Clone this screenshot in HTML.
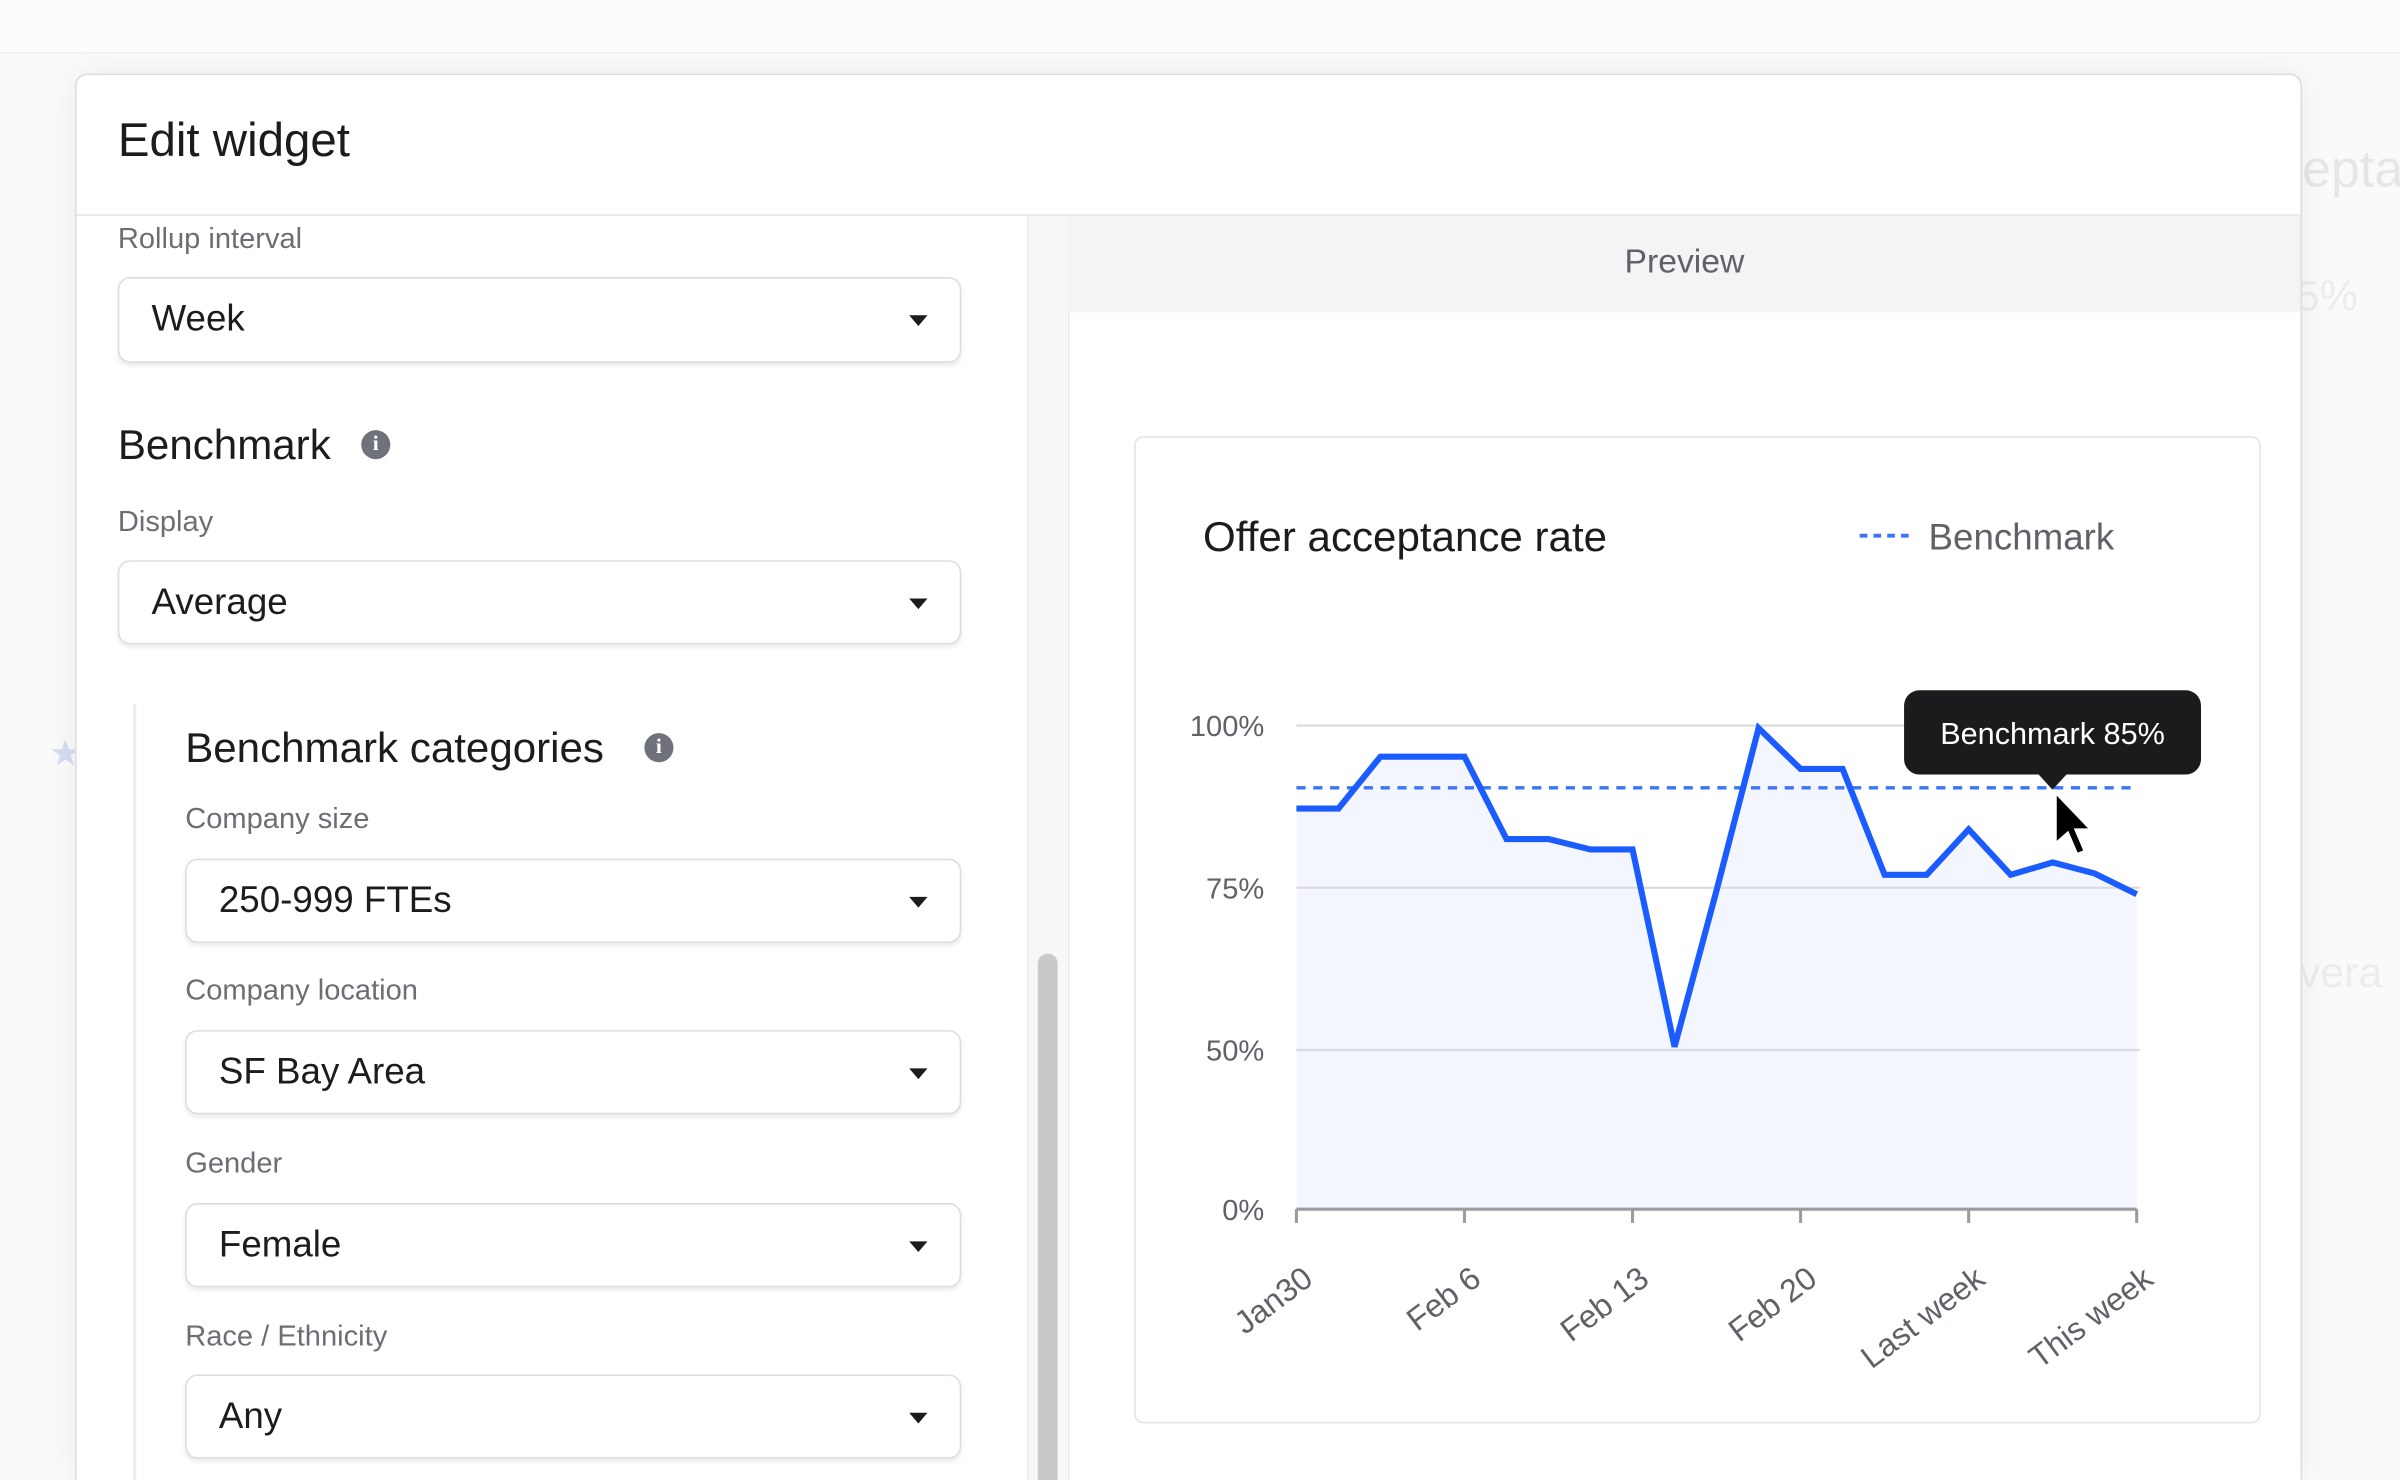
<!DOCTYPE html>
<html><head><meta charset="utf-8">
<style>
html,body{margin:0;padding:0;width:2400px;height:1480px;overflow:hidden;background:#fafafa;font-family:"Liberation Sans",sans-serif;}
#stage{position:absolute;left:0;top:0;width:1568px;height:967px;overflow:hidden;transform:scale(1.5306);transform-origin:0 0;background:#fafafa;}
.abs{position:absolute;}
.lbl{position:absolute;font-size:19px;color:#6b6e75;}
.sel{position:absolute;background:#fff;border:1px solid #dcdde0;border-radius:8px;box-shadow:0 2px 3px rgba(0,0,0,0.08);box-sizing:border-box;}
.sel span{position:absolute;left:21px;top:50%;transform:translateY(-50%);font-size:24px;color:#1c1c1e;}
.caret{position:absolute;right:21px;top:50%;margin-top:-3px;width:0;height:0;border-left:6px solid transparent;border-right:6px solid transparent;border-top:7px solid #1c1c1e;}
.info{position:absolute;width:19px;height:19px;border-radius:50%;background:#6f727a;color:#fff;font-size:14px;font-weight:bold;text-align:center;line-height:19px;font-family:"Liberation Serif",serif;}
</style></head>
<body>
<div id="stage">
  <div class="abs" style="left:0;top:0;width:1568px;height:34px;background:#fcfcfc;border-bottom:1px solid #f0f0f0;"></div>
  <div class="abs" style="left:1504px;top:92px;font-size:34px;color:#e6e6e8;">epta</div>
  <div class="abs" style="left:1500px;top:178px;font-size:28px;color:#ececee;">5%</div>
  <div class="abs" style="left:1502px;top:620px;font-size:28px;color:#ececee;">vera</div>
  <div class="abs" style="left:32px;top:478px;font-size:24px;color:#d5dcf2;">★</div>

  <div class="abs" style="left:49px;top:48px;width:1453px;height:919px;background:#fff;border:1px solid #dcdcdf;border-bottom:none;border-radius:8px 8px 0 0;box-shadow:0 0 20px rgba(0,0,0,0.06);overflow:hidden;">
    <div class="abs" style="left:27px;top:25px;font-size:31px;color:#1c1c1e;">Edit widget</div>
    <div class="abs" style="left:0;top:91px;width:1453px;height:1px;background:#e4e4e7;"></div>
    <div class="abs" style="left:621px;top:92px;width:26px;height:827px;background:#f7f7f8;border-left:1px solid #ececee;border-right:1px solid #ececee;"></div>
    <div class="abs" style="left:628px;top:574px;width:13px;height:345px;background:#c9c9cc;border-radius:7px 7px 0 0;"></div>
    <div class="abs" style="left:648px;top:92px;width:805px;height:63px;background:#f3f4f6;">
      <div style="text-align:center;line-height:60px;font-size:22px;color:#5f6268;">Preview</div>
    </div>
  </div>

  <div class="lbl" style="left:77px;top:146px;">Rollup interval</div>
  <div class="sel" style="left:77px;top:181px;width:551px;height:56px;"><span>Week</span><div class="caret"></div></div>

  <div class="abs" style="left:77px;top:275px;font-size:27.5px;color:#1c1c1e;">Benchmark</div>
  <div class="info" style="left:236px;top:281px;">i</div>
  <div class="lbl" style="left:77px;top:331px;">Display</div>
  <div class="sel" style="left:77px;top:366px;width:551px;height:55px;"><span>Average</span><div class="caret"></div></div>

  <div class="abs" style="left:87px;top:460px;width:2px;height:507px;background:#ececee;"></div>
  <div class="abs" style="left:121px;top:473px;font-size:27.5px;color:#1c1c1e;">Benchmark categories</div>
  <div class="info" style="left:421px;top:479px;">i</div>

  <div class="lbl" style="left:121px;top:525px;">Company size</div>
  <div class="sel" style="left:121px;top:561px;width:507px;height:55px;"><span>250-999 FTEs</span><div class="caret"></div></div>
  <div class="lbl" style="left:121px;top:637px;">Company location</div>
  <div class="sel" style="left:121px;top:673px;width:507px;height:55px;"><span>SF Bay Area</span><div class="caret"></div></div>
  <div class="lbl" style="left:121px;top:750px;">Gender</div>
  <div class="sel" style="left:121px;top:786px;width:507px;height:55px;"><span>Female</span><div class="caret"></div></div>
  <div class="lbl" style="left:121px;top:863px;">Race / Ethnicity</div>
  <div class="sel" style="left:121px;top:898px;width:507px;height:55px;"><span>Any</span><div class="caret"></div></div>

  <div class="abs" style="left:741px;top:285px;width:736px;height:645px;border:1px solid #e4e4e7;border-radius:6px;background:#fff;box-sizing:border-box;"></div>
  <div class="abs" style="left:786px;top:335px;font-size:27.5px;color:#1c1c1e;">Offer acceptance rate</div>

  <svg id="chart" class="abs" style="left:0;top:0;" width="1568" height="967"></svg>
</div>

<script>
const categories = ["Jan30","Feb 6","Feb 13","Feb 20","Last week","This week"];
const seriesValues = [87.2,87.2,95.2,95.2,95.2,82.5,82.5,80.9,80.9,50.5,74.6,99.6,93.3,93.3,77,77,84,77,78.9,77.2,74];
const benchmarkValue = 90.4;
const yTickValues = [0,50,75,100];
const yTickLabels = ["0%","50%","75%","100%"];
const tooltipText = "Benchmark 85%";

const NS = "http://www.w3.org/2000/svg";
const svg = document.getElementById("chart");
const X0 = 847, X1 = 1396;
function xScale(i){ return X0 + (X1 - X0) * i / (seriesValues.length - 1); }
function xCat(i){ return X0 + (X1 - X0) * i / (categories.length - 1); }
function yScale(v){ return v <= 50 ? 790 - v * (104/50) : 686 - (v - 50) * 4.24; }
function mk(tag, attrs){ const e = document.createElementNS(NS, tag); for (const k in attrs) e.setAttribute(k, attrs[k]); svg.appendChild(e); return e; }

// area
let d = "M" + xScale(0) + "," + yScale(0);
seriesValues.forEach((v, i) => { d += " L" + xScale(i) + "," + yScale(v); });
d += " L" + xScale(seriesValues.length - 1) + "," + yScale(0) + " Z";
const area = mk("path", {d: d, fill: "#f3f6fe"});



// gridlines & y labels
yTickValues.forEach((v, i) => {
  if (v > 0) {
    const g = mk("line", {x1: X0, x2: X1 + 2, y1: yScale(v), y2: yScale(v), stroke: "#dcdcdf", "stroke-width": 1.5});
    
    
  }
  const t = mk("text", {x: 826, y: yScale(v) + 7, "text-anchor": "end", "font-size": 19, fill: "#5f6268", "font-family": "Liberation Sans, sans-serif"});
  t.textContent = yTickLabels[i];
  
  
});

// axis
const ax = mk("line", {x1: X0, x2: X1, y1: yScale(0), y2: yScale(0), stroke: "#9a9ca1", "stroke-width": 2});


categories.forEach((c, i) => {
  const x = xCat(i);
  const tk = mk("line", {x1: x, x2: x, y1: yScale(0), y2: yScale(0) + 9, stroke: "#9a9ca1", "stroke-width": 2});
  
  
  const t = mk("text", {x: 0, y: 0, "text-anchor": "end", "font-size": 21, fill: "#5f6268", "font-family": "Liberation Sans, sans-serif", transform: "translate(" + (x + 12) + "," + 838 + ") rotate(-37)"});
  t.textContent = c;
  
  
});

// benchmark line
const bl = mk("line", {x1: X0, x2: X1, y1: yScale(benchmarkValue), y2: yScale(benchmarkValue), stroke: "#3b74f6", "stroke-width": 2.2, "stroke-dasharray": "6,5"});



// series line
const pts = seriesValues.map((v, i) => xScale(i) + "," + yScale(v)).join(" ");
const ln = mk("polyline", {points: pts, fill: "none", stroke: "#1a5cff", "stroke-width": 4, "stroke-linejoin": "miter"});



// legend
const lg = mk("line", {x1: 1215, x2: 1248, y1: 350, y2: 350, stroke: "#3b74f6", "stroke-width": 2.5, "stroke-dasharray": "5,4"});


const lt = mk("text", {x: 1260, y: 359, "font-size": 24, fill: "#5f6268", "font-family": "Liberation Sans, sans-serif"});
lt.textContent = "Benchmark";



// tooltip
const tb = mk("rect", {x: 1244, y: 451, width: 194, height: 55, rx: 10, fill: "#1b1b1d"});


const tp = mk("path", {d: "M1331,505 L1341,516 L1351,505 Z", fill: "#1b1b1d"});


const tt = mk("text", {x: 1341, y: 486, "text-anchor": "middle", "font-size": 20, fill: "#ffffff", "font-family": "Liberation Sans, sans-serif"});
tt.textContent = tooltipText;



// cursor
const cur = mk("path", {d: "M1343,518 L1343,551 L1351,544 L1357,558 L1362,556 L1356,542 L1366,542 Z", fill: "#000", stroke: "#fff", "stroke-width": 1.5});


</script>
</body></html>
